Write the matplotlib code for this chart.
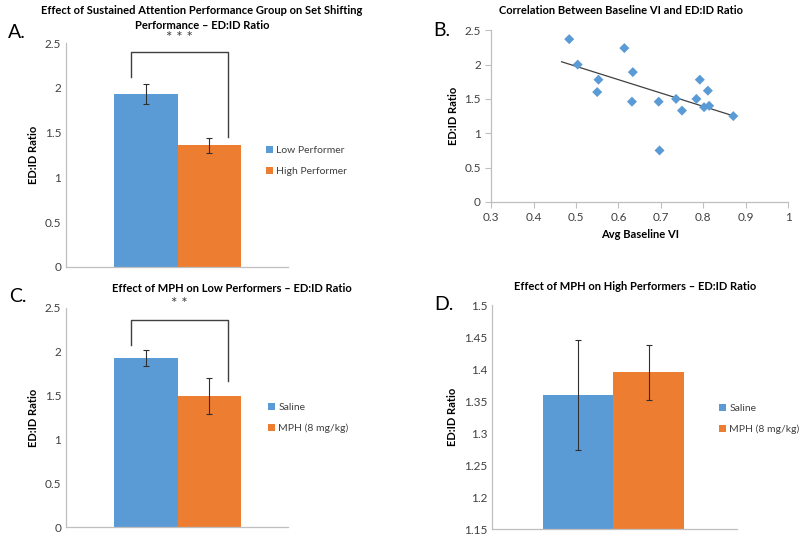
import numpy as np
import matplotlib
matplotlib.use("Agg")
import matplotlib.pyplot as plt
from matplotlib.ticker import FuncFormatter

plt.rcParams['font.family'] = ['Lato', 'DejaVu Sans']

blue = '#5B9BD5'
orange = '#ED7D31'
axis_gray = '#BFBFBF'
text_gray = '#404040'

# Panel A: performance group
groups_a = ['Low Performer', 'High Performer']
ratio_a = [1.93, 1.36]
err_a = [0.115, 0.085]

# Panel B: baseline VI vs ED:ID ratio
baseline_vi = [0.484, 0.504, 0.553, 0.550, 0.614, 0.634, 0.632, 0.695, 0.697,
               0.736, 0.750, 0.784, 0.792, 0.802, 0.811, 0.814, 0.871]
edid_ratio = [2.37, 2.00, 1.78, 1.60, 2.24, 1.89, 1.46, 1.46, 0.75,
              1.50, 1.33, 1.50, 1.78, 1.38, 1.62, 1.40, 1.25]

# Panel C: MPH on low performers
groups_cd = ['Saline', 'MPH (8 mg/kg)']
ratio_c = [1.93, 1.49]
err_c = [0.09, 0.205]

# Panel D: MPH on high performers
ratio_d = [1.36, 1.395]
err_d = [0.086, 0.043]

W, H = 800, 540
fig = plt.figure(figsize=(8, 5.4), dpi=100)


def px(x, y):
    # pixel position (from top-left) to figure fraction
    return x / W, 1 - y / H


def style_axes(ax, ticks=False):
    for s in ['top', 'right']:
        ax.spines[s].set_visible(False)
    for s in ['left', 'bottom']:
        ax.spines[s].set_color(axis_gray)
        ax.spines[s].set_linewidth(0.9)
    ax.tick_params(colors=axis_gray, labelcolor=text_gray, labelsize=8.5,
                   length=4 if ticks else 0, width=0.8)


def bar_panel(rect, vals, errs, labels, ylim, yticks, xlim, leg_xy):
    ax = fig.add_axes(rect)
    x = np.arange(len(vals))
    bars = ax.bar(x, vals, width=1.0, color=[blue, orange],
                  yerr=errs, error_kw=dict(ecolor='#303030', elinewidth=0.8,
                                           capsize=2.5, capthick=0.8))
    ax.set_xlim(*xlim)
    ax.set_ylim(*ylim)
    ax.set_yticks(yticks)
    ax.yaxis.set_major_formatter(FuncFormatter(lambda v, p: f'{v:g}'))
    ax.set_xticks([])
    ax.set_ylabel('ED:ID Ratio', fontsize=8, fontweight='bold', color='black')
    style_axes(ax)
    ax.legend(bars, labels, loc='center left', bbox_to_anchor=px(*leg_xy),
              bbox_transform=fig.transFigure, frameon=False, fontsize=7.5,
              handlelength=0.7, handleheight=0.7, handletextpad=0.3,
              labelspacing=1.1, borderpad=0, borderaxespad=0,
              labelcolor=text_gray)
    return ax


def bracket(ax, x0, x1, y_top, y0, y1, stars, y_star):
    ax.plot([x0, x0, x1, x1], [y0, y_top, y_top, y1], color='#404040',
            lw=1.0, clip_on=False)
    ax.text((x0 + x1) / 2, y_star, stars, ha='center', va='center',
            fontsize=11, color='#404040', clip_on=False)


def title(x, y, s):
    fig.text(*px(x, y), s, ha='center', va='center', fontsize=8,
             fontweight='bold', linespacing=1.5)


# A
ax_a = bar_panel([0.0825, 0.506, 0.2775, 0.414], ratio_a, err_a, groups_a,
                 (0, 2.5), np.arange(0, 2.51, 0.5), (-1.256, 2.24), (266, 161))
title(202, 18, 'Effect of Sustained Attention Performance Group on Set Shifting\n'
               'Performance \u2013 ED:ID Ratio')
bracket(ax_a, -0.23, 1.295, 2.40, 2.12, 1.45, '* * *', 2.56)

# B
ax_b = fig.add_axes([0.614, 0.626, 0.371, 0.318])
ax_b.scatter(baseline_vi, edid_ratio, marker='D', s=26, color=blue,
             edgecolors='none', zorder=3)
coef = np.polyfit(baseline_vi, edid_ratio, 1)
xs = np.array([min(baseline_vi) - 0.018, max(baseline_vi)])
ax_b.plot(xs, np.polyval(coef, xs), color='#404040', lw=0.9, zorder=2)
ax_b.set_xlim(0.3, 1.0)
ax_b.set_ylim(0, 2.5)
ax_b.set_xticks(np.arange(0.3, 1.01, 0.1))
ax_b.set_yticks(np.arange(0, 2.51, 0.5))
ax_b.xaxis.set_major_formatter(FuncFormatter(lambda v, p: f'{round(v, 1):g}'))
ax_b.yaxis.set_major_formatter(FuncFormatter(lambda v, p: f'{v:g}'))
ax_b.set_xlabel('Avg Baseline VI', fontsize=8, fontweight='bold')
ax_b.set_ylabel('ED:ID Ratio', fontsize=8, fontweight='bold')
style_axes(ax_b, ticks=True)
title(621, 11, 'Correlation Between Baseline VI and ED:ID Ratio')

# C
ax_c = bar_panel([0.0825, 0.024, 0.2775, 0.406], ratio_c, err_c, groups_cd,
                 (0, 2.5), np.arange(0, 2.51, 0.5), (-1.256, 2.24), (268, 418))
title(232, 289, 'Effect of MPH on Low Performers \u2013 ED:ID Ratio')
bracket(ax_c, -0.23, 1.295, 2.36, 2.08, 1.67, '* *', 2.54)

# D
ax_d = bar_panel([0.615, 0.020, 0.306, 0.415], ratio_d, err_d, groups_cd,
                 (1.15, 1.5), np.arange(1.15, 1.501, 0.05), (-1.22, 2.25),
                 (719, 419))
title(635, 286, 'Effect of MPH on High Performers \u2013 ED:ID Ratio')

# panel letters
for lab, (x, y) in zip(['A.', 'B.', 'C.', 'D.'],
                       [(8, 32), (433, 31), (9, 297), (434, 305)]):
    fig.text(*px(x, y), lab, fontsize=14, color='black', ha='left', va='center')

fig.savefig('out.png', dpi=100)
